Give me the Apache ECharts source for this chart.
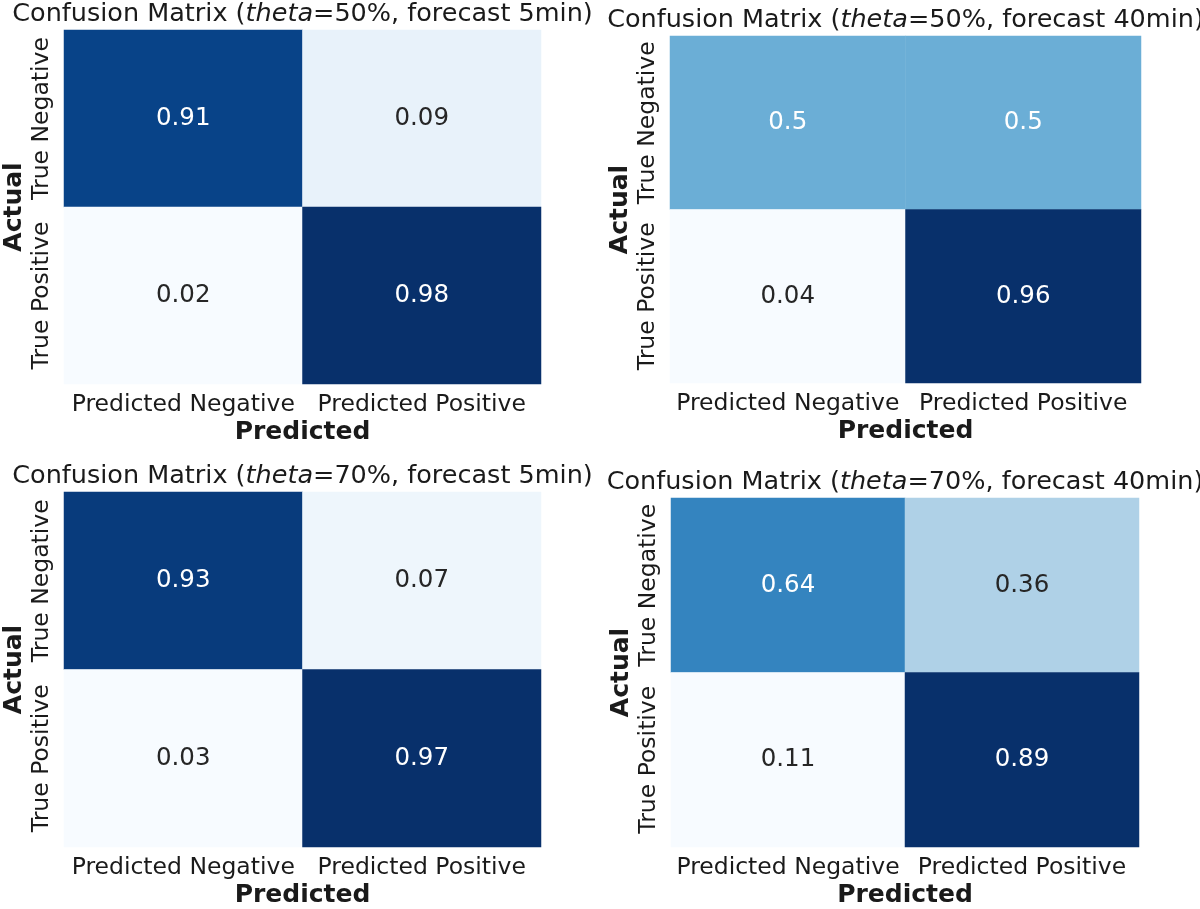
<!DOCTYPE html>
<html>
<head>
<meta charset="utf-8">
<script src="https://cdn.jsdelivr.net/npm/echarts@6/dist/echarts.min.js"></script>
<style>html,body{margin:0;padding:0;background:#fff;}#main{width:1200px;height:909px;}</style>
</head>
<body>
<div id="main"></div>
<script>
// ---- data ----
const xCategories = ['Predicted Negative', 'Predicted Positive'];
const yCategories = ['True Negative', 'True Positive'];
const thetas = ['50%', '50%', '70%', '70%'];
const forecasts = ['5min', '40min', '5min', '40min'];
// rows: [True Negative row], [True Positive row]; columns: Pred Neg, Pred Pos
const cm50_5  = [[0.91, 0.09], [0.02, 0.98]];
const cm50_40 = [[0.5, 0.5], [0.04, 0.96]];
const cm70_5  = [[0.93, 0.07], [0.03, 0.97]];
const cm70_40 = [[0.64, 0.36], [0.11, 0.89]];
const matrices = [cm50_5, cm50_40, cm70_5, cm70_40];

// ---- layout ----
const grids = [
  {left: 64, top: 30, width: 477, height: 354},
  {left: 670, top: 36, width: 471, height: 347},
  {left: 64, top: 492, width: 477, height: 357},
  {left: 671, top: 498, width: 468, height: 351}
];
const blues = ['#f7fbff','#deebf7','#c6dbef','#9ecae1','#6baed6','#4292c6','#2171b5','#08519c','#08306b'];
const FONT = 'DejaVu Sans';

const option = {
  animation: false,
  backgroundColor: '#fff',
  textStyle: {fontFamily: FONT},
  grid: grids.map(g => Object.assign({containLabel: false}, g)),
  xAxis: grids.map((g, i) => ({
    type: 'category', gridIndex: i, data: xCategories, position: 'bottom',
    axisLine: {show: false}, axisTick: {show: false}, splitLine: {show: false},
    axisLabel: {fontFamily: FONT, fontSize: 23.5, color: '#1a1a1a', margin: 9, interval: 0},
    name: 'Predicted', nameLocation: 'middle', nameGap: 36,
    nameTextStyle: {fontFamily: FONT, fontSize: 25, fontWeight: 'bold', color: '#1a1a1a'}
  })),
  yAxis: grids.map((g, i) => ({
    type: 'category', gridIndex: i, data: yCategories, inverse: true,
    axisLine: {show: false}, axisTick: {show: false}, splitLine: {show: false},
    axisLabel: {fontFamily: FONT, fontSize: 23.5, color: '#1a1a1a', rotate: 90, margin: 10, interval: 0, align: 'center', verticalAlign: 'bottom'},
    name: 'Actual', nameLocation: 'middle', nameRotate: 90, nameGap: 37,
    nameTextStyle: {fontFamily: FONT, fontSize: 25, fontWeight: 'bold', color: '#1a1a1a'}
  })),
  visualMap: matrices.map((m, i) => {
    const flat = m.flat();
    return {
      show: false, seriesIndex: i, dimension: 2,
      min: Math.min(...flat), max: Math.max(...flat),
      inRange: {color: blues}
    };
  }),
  graphic: grids.map((g, i) => ({
    type: 'text',
    x: g.left + g.width / 2,
    y: g.top - 16,
    style: {
      text: 'Confusion Matrix ({it|theta}=' + thetas[i] + ', forecast ' + forecasts[i] + ')',
      fontFamily: FONT, fontSize: 25.5, fill: '#1a1a1a',
      align: 'center', verticalAlign: 'middle',
      rich: {it: {fontFamily: FONT, fontSize: 25.5, fontStyle: 'italic', fill: '#1a1a1a'}}
    }
  })),
  series: matrices.map((m, i) => {
    const flat = m.flat();
    const mn = Math.min(...flat), mx = Math.max(...flat);
    const data = [];
    m.forEach((row, r) => row.forEach((v, c) => {
      const norm = (v - mn) / (mx - mn);
      data.push({value: [c, r, v], label: {color: norm >= 0.5 ? '#ffffff' : '#262626'}});
    }));
    return {
      type: 'heatmap', xAxisIndex: i, yAxisIndex: i, data: data,
      label: {show: true, fontFamily: FONT, fontSize: 24.5, formatter: p => String(p.value[2])},
      itemStyle: {borderWidth: 0},
      emphasis: {disabled: true}
    };
  })
};

const chart = echarts.init(document.getElementById('main'), null, {renderer: 'canvas'});
chart.setOption(option);
</script>
</body>
</html>
